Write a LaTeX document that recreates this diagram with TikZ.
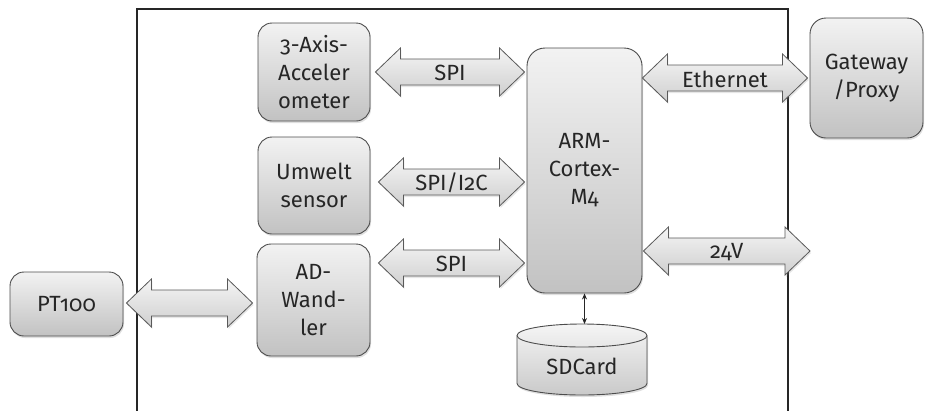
\documentclass[tikz,border=0pt]{standalone}
\usepackage{fontspec}
\setmainfont[Numbers=OldStyle]{Fira Sans}
\usetikzlibrary{shadows,calc,arrows.meta}
\tikzset{
  txt/.style={font=\fontsize{22}{28}\selectfont, text=black!85},
  blk/.style={txt, draw=black!70, line width=0.9pt, rounded corners=14pt,
    top color=gray!10, bottom color=gray!48, align=center, inner sep=0pt,
    drop shadow={opacity=0.25, shadow xshift=1pt, shadow yshift=-2pt}},
  arr/.style={draw=black!65, line width=0.8pt, top color=gray!8, bottom color=gray!38,
    drop shadow={opacity=0.2, shadow xshift=1pt, shadow yshift=-2pt}},
  lbl/.style={txt, inner sep=0pt},
  frame/.style={draw=black!85, line width=1.6pt}
}
% #1 name, #2 left node, #3 right node/coord, #4 y, #5 label, #6 left gap, #7 right gap
\newcommand\barrow[7]{%
  \coordinate (#1y) at (0,#4);
  \coordinate (#1L) at ($(#2 |- #1y)+(#6,0)$);
  \coordinate (#1R) at ($(#3 |- #1y)+(-#7,0)$);
  \draw[arr] (#1L) -- ++(25,-24) -- ++(0,11) -- ($(#1R)+(-25,-13)$) -- ++(0,-11)
    -- (#1R) -- ++(-25,24) -- ++(0,-11) -- ($(#1L)+(25,13)$) -- ++(0,11) -- cycle;
  \node[lbl] (#1) at ($(#1L)!0.5!(#1R)+(0,1)$) {#5};
}
\begin{document}
\begin{tikzpicture}[x=1pt,y=-1pt]
\useasboundingbox (0,0) rectangle (925,410);
% frame
\draw[frame] (137,412) -- (137,9) -- (788,9) -- (788,412);
% blocks
\node[blk, minimum width=112pt, minimum height=98pt] (acc) at (314,72) {3-Axis-\\Acceler\\ometer};
\node[blk, minimum width=112pt, minimum height=97pt] (umw) at (314,185.5) {Umwelt\\sensor};
\node[blk, minimum width=113pt, minimum height=112pt] (ad) at (313.5,300) {AD-\\Wand-\\ler};
\node[blk, minimum width=113pt, minimum height=64pt] (pt) at (66.5,304) {PT100};
\node[blk, rounded corners=18pt, minimum width=115pt, minimum height=245pt] (arm) at (584.5,170.5) {ARM-\\Cortex-\\M4};
\node[blk, rounded corners=16pt, minimum width=113pt, minimum height=120pt] (gw) at (866.5,78) {Gateway\\/Proxy};
% SD card cylinder
\coordinate (sdtop) at (584.5,324);
\draw[draw=black!70, line width=0.9pt, top color=gray!8, bottom color=gray!42,
  drop shadow={opacity=0.25, shadow xshift=1pt, shadow yshift=-2pt}]
  (517,335.5) -- (517,383.5) arc[start angle=180, end angle=360, x radius=65pt, y radius=11.5pt]
  -- (647,335.5) arc[start angle=0, end angle=180, x radius=65pt, y radius=11.5pt] -- cycle;
\draw[draw=black!70, line width=0.9pt] (517,335.5) arc[start angle=180, end angle=360, x radius=65pt, y radius=11.5pt];
\node[lbl] (sd) at (582,366) {SDCard};
\draw[black!85, line width=1.1pt, {Stealth[length=6pt,width=5pt]}-{Stealth[length=6pt,width=5pt]}] (arm.south) -- (sdtop);
% arrows
\coordinate (vout) at (810,251);
\barrow{a1}{acc.east}{arm.west}{72}{SPI}{5}{2}
\barrow{a2}{umw.east}{arm.west}{182}{SPI/I2C}{8}{2}
\barrow{a3}{ad.east}{arm.west}{263}{SPI}{8}{2}
\barrow{a4}{pt.east}{ad.west}{303}{}{3}{4}
\barrow{a5}{arm.east}{gw.west}{78}{Ethernet}{0}{2}
\barrow{a6}{arm.east}{vout}{251}{24V}{1}{0}
\end{tikzpicture}
\end{document}
